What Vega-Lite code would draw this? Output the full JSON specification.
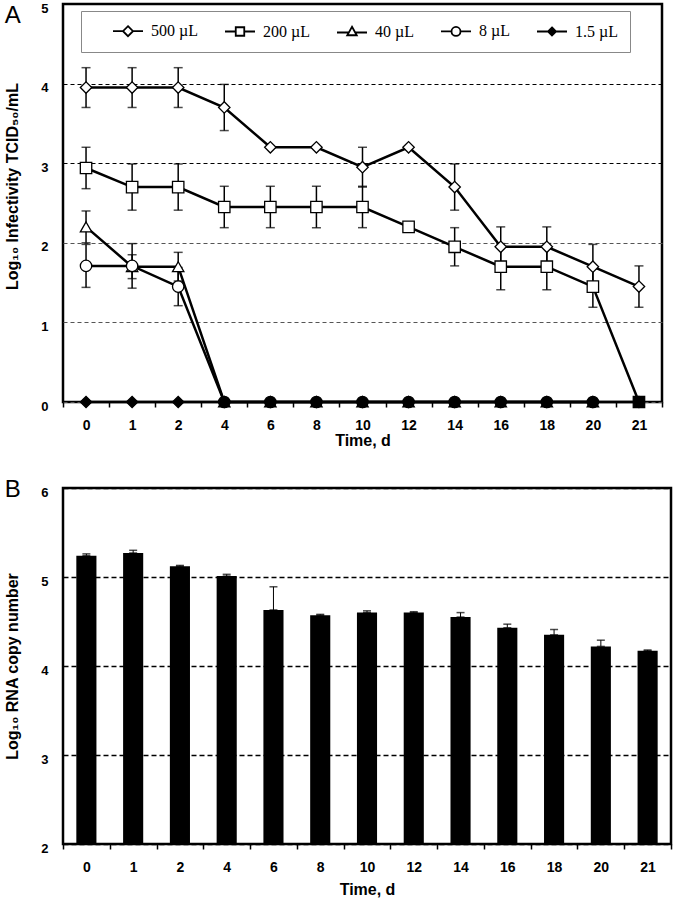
{
  "$schema": "https://vega.github.io/schema/vega-lite/v6.json",
  "background": "white",
  "padding": {"left": 3, "top": 0, "right": 2, "bottom": 0},
  "spacing": 26,
  "config": {
    "view": {"stroke": "black", "strokeWidth": 2.5},
    "font": "Liberation Sans",
    "axis": {"labelFont": "Liberation Sans", "labelFontWeight": "bold", "labelColor": "black", "titleFont": "Liberation Sans", "titleFontWeight": "bold", "titleColor": "black"}
  },
  "vconcat": [
    {
      "width": 599,
      "height": 398,
      "title": {"text": "A", "anchor": "start", "frame": "bounds", "fontSize": 24, "fontWeight": "normal", "font": "Liberation Sans", "baseline": "alphabetic", "offset": -45, "color": "black"},
      "data": {"values": [
        {"day": 0, "series": "1.5 µL", "value": 0, "err": 0},
        {"day": 1, "series": "1.5 µL", "value": 0, "err": 0},
        {"day": 2, "series": "1.5 µL", "value": 0, "err": 0},
        {"day": 4, "series": "1.5 µL", "value": 0, "err": 0},
        {"day": 6, "series": "1.5 µL", "value": 0, "err": 0},
        {"day": 8, "series": "1.5 µL", "value": 0, "err": 0},
        {"day": 10, "series": "1.5 µL", "value": 0, "err": 0},
        {"day": 12, "series": "1.5 µL", "value": 0, "err": 0},
        {"day": 14, "series": "1.5 µL", "value": 0, "err": 0},
        {"day": 16, "series": "1.5 µL", "value": 0, "err": 0},
        {"day": 18, "series": "1.5 µL", "value": 0, "err": 0},
        {"day": 20, "series": "1.5 µL", "value": 0, "err": 0},
        {"day": 21, "series": "1.5 µL", "value": 0, "err": 0},
        {"day": 0, "series": "500 µL", "value": 3.95, "err": 0.25},
        {"day": 1, "series": "500 µL", "value": 3.95, "err": 0.25},
        {"day": 2, "series": "500 µL", "value": 3.95, "err": 0.25},
        {"day": 4, "series": "500 µL", "value": 3.70, "err": 0.29},
        {"day": 6, "series": "500 µL", "value": 3.20, "err": 0},
        {"day": 8, "series": "500 µL", "value": 3.20, "err": 0},
        {"day": 10, "series": "500 µL", "value": 2.95, "err": 0.25},
        {"day": 12, "series": "500 µL", "value": 3.20, "err": 0},
        {"day": 14, "series": "500 µL", "value": 2.70, "err": 0.29},
        {"day": 16, "series": "500 µL", "value": 1.95, "err": 0.25},
        {"day": 18, "series": "500 µL", "value": 1.95, "err": 0.25},
        {"day": 20, "series": "500 µL", "value": 1.70, "err": 0.28},
        {"day": 21, "series": "500 µL", "value": 1.45, "err": 0.26},
        {"day": 0, "series": "200 µL", "value": 2.94, "err": 0.26},
        {"day": 1, "series": "200 µL", "value": 2.70, "err": 0.29},
        {"day": 2, "series": "200 µL", "value": 2.70, "err": 0.29},
        {"day": 4, "series": "200 µL", "value": 2.45, "err": 0.26},
        {"day": 6, "series": "200 µL", "value": 2.45, "err": 0.26},
        {"day": 8, "series": "200 µL", "value": 2.45, "err": 0.26},
        {"day": 10, "series": "200 µL", "value": 2.45, "err": 0.26},
        {"day": 12, "series": "200 µL", "value": 2.20, "err": 0},
        {"day": 14, "series": "200 µL", "value": 1.95, "err": 0.24},
        {"day": 16, "series": "200 µL", "value": 1.70, "err": 0.29},
        {"day": 18, "series": "200 µL", "value": 1.70, "err": 0.29},
        {"day": 20, "series": "200 µL", "value": 1.45, "err": 0.26},
        {"day": 21, "series": "200 µL", "value": 0, "err": 0},
        {"day": 0, "series": "40 µL", "value": 2.20, "err": 0.20},
        {"day": 1, "series": "40 µL", "value": 1.70, "err": 0.15},
        {"day": 2, "series": "40 µL", "value": 1.70, "err": 0.18},
        {"day": 4, "series": "40 µL", "value": 0, "err": 0},
        {"day": 6, "series": "40 µL", "value": 0, "err": 0},
        {"day": 8, "series": "40 µL", "value": 0, "err": 0},
        {"day": 10, "series": "40 µL", "value": 0, "err": 0},
        {"day": 12, "series": "40 µL", "value": 0, "err": 0},
        {"day": 14, "series": "40 µL", "value": 0, "err": 0},
        {"day": 16, "series": "40 µL", "value": 0, "err": 0},
        {"day": 18, "series": "40 µL", "value": 0, "err": 0},
        {"day": 20, "series": "40 µL", "value": 0, "err": 0},
        {"day": 0, "series": "8 µL", "value": 1.71, "err": 0.27},
        {"day": 1, "series": "8 µL", "value": 1.71, "err": 0.28},
        {"day": 2, "series": "8 µL", "value": 1.45, "err": 0.24},
        {"day": 4, "series": "8 µL", "value": 0, "err": 0},
        {"day": 6, "series": "8 µL", "value": 0, "err": 0},
        {"day": 8, "series": "8 µL", "value": 0, "err": 0},
        {"day": 10, "series": "8 µL", "value": 0, "err": 0},
        {"day": 12, "series": "8 µL", "value": 0, "err": 0},
        {"day": 14, "series": "8 µL", "value": 0, "err": 0},
        {"day": 16, "series": "8 µL", "value": 0, "err": 0},
        {"day": 18, "series": "8 µL", "value": 0, "err": 0},
        {"day": 20, "series": "8 µL", "value": 0, "err": 0}
      ]},
      "encoding": {
        "x": {"field": "day", "type": "ordinal", "scale": {"type": "band", "paddingInner": 0, "paddingOuter": 0},
          "axis": {"title": "Time, d", "labelAngle": 0, "labelFontSize": 14, "titleFontSize": 16, "labelPadding": 11, "titlePadding": 0, "tickBand": "extent", "tickSize": 5, "tickWidth": 1.5, "tickColor": "black", "domain": false, "grid": false}},
        "y": {"field": "value", "type": "quantitative", "scale": {"domain": [0, 5], "nice": false},
          "axis": {"title": "Log₁₀ Infectivity TCID₅₀/mL", "values": [0, 1, 2, 3, 4, 5], "format": "d", "ticks": false, "domain": false, "labelFontSize": 13, "labelPadding": 15, "labelOffset": 4, "titleFontSize": 16, "titlePadding": 20, "titleY": 182, "grid": true, "gridDash": [4, 3], "gridWidth": 1.2, "gridColor": {"condition": {"test": "datum.value >= 3", "value": "black"}, "value": "#555555"}}}
      },
      "resolve": {"scale": {"shape": "independent", "fill": "independent"}, "legend": {"shape": "independent", "fill": "independent"}},
      "layer": [
        {"mark": {"type": "line", "color": "black", "strokeWidth": 2.5}, "encoding": {"detail": {"field": "series"}}},
        {"transform": [{"filter": "datum.err > 0"}],
          "mark": {"type": "errorbar", "color": "black", "ticks": {"size": 9, "thickness": 1.5, "color": "black"}, "rule": {"strokeWidth": 1.5, "color": "black"}},
          "encoding": {"y": {"field": "value", "type": "quantitative", "title": "Log₁₀ Infectivity TCID₅₀/mL"}, "yError": {"field": "err"}, "detail": {"field": "series"}}},
        {"mark": {"type": "point", "filled": false, "size": 130, "strokeWidth": 1.3, "color": "black", "opacity": 1},
          "encoding": {
            "shape": {"field": "series", "type": "nominal",
              "scale": {"domain": ["500 µL", "200 µL", "40 µL", "8 µL", "1.5 µL"], "range": ["diamond", "square", "triangle-up", "circle", "diamond"]},
              "legend": null},
            "fill": {"condition": {"test": "datum.value === 0", "value": "black"}, "field": "series", "type": "nominal",
              "scale": {"domain": ["500 µL", "200 µL", "40 µL", "8 µL", "1.5 µL"], "range": ["white", "white", "white", "white", "black"]},
              "legend": null}
          }},
        {"mark": {"type": "point", "filled": false, "size": 100, "strokeWidth": 1.8, "color": "black", "opacity": 0},
          "encoding": {
            "shape": {"field": "series", "type": "nominal",
              "scale": {"domain": ["500 µL", "200 µL", "40 µL", "8 µL", "1.5 µL"], "range": ["M-3,0H-1M1,0H3M0,-1L1,0L0,1L-1,0Z", "M-3,0H-0.85M0.85,0H3M-0.85,-0.85H0.85V0.85H-0.85Z", "M-3,0.2H-0.64M0.64,0.2H3M0,-0.95L0.95,0.75H-0.95Z", "M-3,0H-0.9M0.9,0H3M-0.9,0A0.9,0.9 0 1,0 0.9,0A0.9,0.9 0 1,0 -0.9,0Z", "M-3,0H3M0,-0.8L0.8,0L0,0.8L-0.8,0Z"]},
              "legend": {"title": " ", "titleOrient": "left", "titlePadding": 27, "titleFontSize": 16, "orient": "none", "legendX": 18, "legendY": 7, "direction": "horizontal", "columns": 5, "columnPadding": 23, "padding": 12, "strokeColor": "#888888", "fillColor": "white", "symbolSize": 100, "symbolOpacity": 1, "symbolStrokeWidth": 1.8, "labelFont": "Liberation Serif", "labelFontSize": 16, "labelColor": "black", "labelOffset": 15}},
            "fill": {"field": "series", "type": "nominal",
              "scale": {"domain": ["500 µL", "200 µL", "40 µL", "8 µL", "1.5 µL"], "range": ["white", "white", "white", "white", "black"]},
              "legend": {"title": " ", "titleOrient": "left", "titlePadding": 27, "titleFontSize": 16, "orient": "none", "legendX": 18, "legendY": 7, "direction": "horizontal", "columns": 5, "columnPadding": 23, "padding": 12, "strokeColor": "#888888", "fillColor": "white", "symbolSize": 100, "symbolOpacity": 1, "symbolStrokeWidth": 1.8, "labelFont": "Liberation Serif", "labelFontSize": 16, "labelColor": "black", "labelOffset": 15}}
          }}
      ]
    },
    {
      "width": 608,
      "height": 356,
      "title": {"text": "B", "anchor": "start", "frame": "bounds", "fontSize": 24, "fontWeight": "normal", "font": "Liberation Sans", "baseline": "alphabetic", "offset": -35, "color": "black"},
      "data": {"values": [
        {"day": 0, "value": 5.24, "upper": 5.26},
        {"day": 1, "value": 5.27, "upper": 5.30},
        {"day": 2, "value": 5.12, "upper": 5.13},
        {"day": 4, "value": 5.01, "upper": 5.03},
        {"day": 6, "value": 4.63, "upper": 4.89},
        {"day": 8, "value": 4.57, "upper": 4.58},
        {"day": 10, "value": 4.60, "upper": 4.62},
        {"day": 12, "value": 4.60, "upper": 4.61},
        {"day": 14, "value": 4.55, "upper": 4.60},
        {"day": 16, "value": 4.43, "upper": 4.47},
        {"day": 18, "value": 4.35, "upper": 4.41},
        {"day": 20, "value": 4.22, "upper": 4.29},
        {"day": 21, "value": 4.17, "upper": 4.18}
      ]},
      "encoding": {
        "x": {"field": "day", "type": "ordinal", "scale": {"type": "band", "paddingInner": 0, "paddingOuter": 0},
          "axis": {"title": "Time, d", "labelAngle": 0, "labelFontSize": 14, "titleFontSize": 16, "labelPadding": 11, "titlePadding": 7, "tickBand": "extent", "tickSize": 5, "tickWidth": 1.5, "tickColor": "black", "domain": false, "grid": false}}
      },
      "layer": [
        {"mark": {"type": "bar", "color": "black", "width": {"band": 0.43}},
          "encoding": {
            "y": {"field": "value", "type": "quantitative", "scale": {"domain": [2, 6], "nice": false, "zero": false},
              "axis": {"title": "Log₁₀ RNA copy number", "values": [2, 3, 4, 5, 6], "format": "d", "ticks": false, "domain": false, "labelFontSize": 13, "labelPadding": 15, "labelOffset": 4, "titleFontSize": 16, "titlePadding": 20, "grid": true, "gridDash": [5, 3], "gridWidth": 1.3, "gridColor": "black"}},
            "y2": {"datum": 2}}},
        {"mark": {"type": "errorbar", "color": "black", "ticks": {"size": 8, "thickness": 1.5, "color": "black"}, "rule": {"strokeWidth": 1, "color": "black"}},
          "encoding": {"y": {"field": "value", "type": "quantitative", "title": "Log₁₀ RNA copy number"}, "y2": {"field": "upper"}}}
      ]
    }
  ]
}
